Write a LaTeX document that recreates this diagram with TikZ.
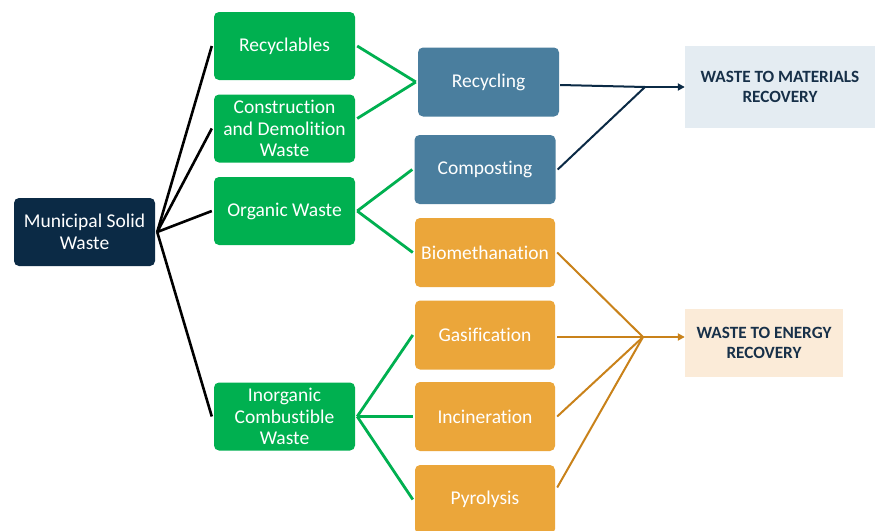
\documentclass[tikz,border=0pt]{standalone}
\usepackage{fontspec}
\setmainfont[RawFeature={-liga,-clig,-dlig}]{Carlito}
\usetikzlibrary{arrows.meta,calc}
\definecolor{navy}{HTML}{0B2A45}
\definecolor{gbox}{HTML}{00B050}
\definecolor{bbox}{HTML}{4A7E9E}
\definecolor{obox}{HTML}{EBA63A}
\definecolor{oline}{HTML}{C9821A}
\definecolor{matfill}{HTML}{E4ECF2}
\definecolor{enfill}{HTML}{FBEBD8}
\definecolor{headtxt}{HTML}{173049}
\tikzset{
  box/.style={rounded corners=5pt, text=white, align=center, inner sep=0pt,
    font=\fontsize{19.5}{21.7}\selectfont},
  navybox/.style={box, fill=navy, minimum width=141pt, minimum height=68pt},
  greenbox/.style={box, fill=gbox, minimum width=141pt, minimum height=68pt},
  bluebox/.style={box, fill=bbox, minimum width=141pt, minimum height=69pt},
  orangebox/.style={box, fill=obox, minimum width=140pt, minimum height=69pt},
  headbox/.style={align=center, text=headtxt, inner sep=0pt,
    font=\bfseries\fontsize{17.2}{20.5}\selectfont},
  blackline/.style={draw=black, line width=2.6pt},
  greenline/.style={draw=gbox, line width=2.8pt},
  navyline/.style={draw=navy, line width=2pt},
  orangeline/.style={draw=oline, line width=2pt},
}
\begin{document}
\begin{tikzpicture}[x=1pt,y=-1pt]
\clip (0,0) rectangle (875,530);
\fill[white] (0,0) rectangle (875,530);
% nodes
\node[navybox] (msw) at (84.5,232) {Municipal Solid\\Waste};
\node[greenbox] (recy) at (284.5,46) {Recyclables};
\node[greenbox] (cd) at (284.5,128.5) {Construction\\and Demolition\\Waste};
\node[greenbox] (org) at (284.5,211) {Organic Waste};
\node[greenbox] (inorg) at (284.5,416.5) {Inorganic\\Combustible\\Waste};
\node[bluebox] (rcl) at (488.5,82) {Recycling};
\node[bluebox] (comp) at (485,169.5) {Composting};
\node[orangebox] (bio) at (485,252.5) {Biomethanation};
\node[orangebox] (gas) at (485,335) {Gasification};
\node[orangebox] (inc) at (485,416.5) {Incineration};
\node[orangebox] (pyr) at (485,499.5) {Pyrolysis};
\node[headbox, fill=matfill, minimum width=190pt, minimum height=82pt] (mat) at (780,87) {WASTE TO MATERIALS\\RECOVERY};
\node[headbox, fill=enfill, minimum width=158pt, minimum height=68pt] (en) at (764,343) {WASTE TO ENERGY\\RECOVERY};
\coordinate (jm) at (645,87);
\coordinate (je) at (643,337);
% black connectors
\draw[blackline] ([xshift=2pt]msw.east) -- ([xshift=-2pt]recy.west);
\draw[blackline] ([xshift=2pt]msw.east) -- ([xshift=-2pt]cd.west);
\draw[blackline] ([xshift=2pt]msw.east) -- ([xshift=-2pt]org.west);
\draw[blackline] ([xshift=2pt]msw.east) -- ([xshift=-2pt]inorg.west);
% green connectors
\draw[greenline] ([xshift=2pt]recy.east) -- ([xshift=-2pt]rcl.west);
\draw[greenline] ([xshift=2pt,yshift=10pt]cd.east) -- ([xshift=-2pt]rcl.west);
\draw[greenline] ([xshift=2pt]org.east) -- ([xshift=-2pt]comp.west);
\draw[greenline] ([xshift=2pt]org.east) -- ([xshift=-2pt]bio.west);
\draw[greenline] ([xshift=2pt]inorg.east) -- ([xshift=-2pt]gas.west);
\draw[greenline] ([xshift=2pt]inorg.east) -- ([xshift=-2pt]inc.west);
\draw[greenline] ([xshift=2pt]inorg.east) -- ([xshift=-2pt]pyr.west);
% navy connectors
\draw[navyline] ([xshift=1pt,yshift=-3pt]rcl.east) -- (jm);
\draw[navyline] ([xshift=2pt]comp.east) -- (jm);
\draw[navyline, -{Triangle[length=7pt,width=7pt]}] (jm) -- (jm -| mat.west);
% orange connectors
\draw[orangeline] ([xshift=2pt]bio.east) -- (je);
\draw[orangeline] ([xshift=2pt]gas.east |- je) -- (je);
\draw[orangeline] ([xshift=2pt]inc.east) -- (je);
\draw[orangeline] ([xshift=2pt,yshift=12pt]pyr.east) -- (je);
\draw[orangeline, -{Triangle[length=7pt,width=7pt]}] (je) -- (je -| en.west);
\end{tikzpicture}
\end{document}
